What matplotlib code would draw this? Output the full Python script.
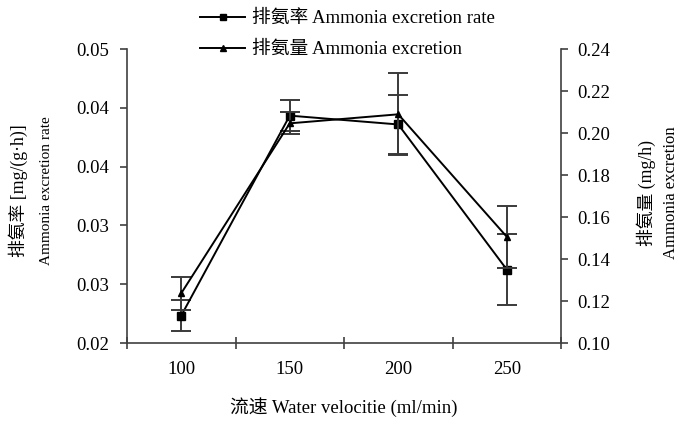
import matplotlib
matplotlib.use("Agg")
import matplotlib.pyplot as plt
from matplotlib.lines import Line2D
import numpy as np

plt.rcParams['font.family'] = ['Liberation Serif', 'Noto Sans CJK SC']
plt.rcParams['font.size'] = 13.5

categories = ['100', '150', '200', '250']
rate = [0.0228, 0.0432, 0.0423, 0.0275]          # left axis, squares
rate_err = [0.0016, 0.0016, 0.0030, 0.0036]
excretion = [0.1237, 0.2046, 0.2089, 0.1506]     # right axis, triangles
excretion_err = [0.0079, 0.0052, 0.0195, 0.0148]
left_ticks = [0.020, 0.026, 0.032, 0.038, 0.044, 0.050]
right_ticks = [0.10, 0.12, 0.14, 0.16, 0.18, 0.20, 0.22, 0.24]

fig = plt.figure(figsize=(6.81, 4.24), dpi=100)
ax = fig.add_axes([127/681, 1-343/424, (561-127)/681, (343-49)/424])
ax2 = ax.twinx()

x = np.arange(1, len(categories) + 1)
ecol = '#3a3a3a'
ax.errorbar(x, rate, yerr=rate_err, color='black', lw=1.4, marker='s', ms=5.5,
            ecolor=ecol, elinewidth=1.4, capsize=7, capthick=1.4)
ax2.errorbar(x, excretion, yerr=excretion_err, color='black', lw=1.4, marker='^', ms=5,
             ecolor=ecol, elinewidth=1.4, capsize=7, capthick=1.4)

ax.set_xlim(0.5, len(categories) + 0.5)
ax.set_ylim(0.02, 0.05)
ax2.set_ylim(0.10, 0.24)
ax.set_yticks(left_ticks)
ax.set_yticklabels([f'{v:.2f}' for v in left_ticks])
ax2.set_yticks(right_ticks)
ax2.set_yticklabels([f'{v:.2f}' for v in right_ticks])

ax.set_xticks(np.arange(0.5, len(categories) + 1, 1.0))
ax.set_xticklabels([])
ax.set_xticks(x, minor=True)
ax.set_xticklabels(categories, minor=True)
ax.tick_params(axis='x', which='major', direction='inout', length=8, width=1.2, color='#404040')
ax.tick_params(axis='x', which='minor', length=0, pad=13)
ax.tick_params(axis='y', direction='out', length=5, width=1.2, color='#404040', pad=8)
ax2.tick_params(axis='y', direction='out', length=5, width=1.2, color='#404040', pad=7)

for a in (ax, ax2):
    a.spines['top'].set_visible(False)
ax.spines['right'].set_visible(False)
ax2.spines['left'].set_visible(False)
ax2.spines['bottom'].set_visible(False)
for s in ('left', 'bottom'):
    ax.spines[s].set_color('#404040')
    ax.spines[s].set_linewidth(1.2)
ax2.spines['right'].set_color('#404040')
ax2.spines['right'].set_linewidth(1.2)

ax.set_xlabel('流速 Water velocitie (ml/min)', labelpad=14)
fig.text(18/681, 1-191/424, '排氨率 [mg/(g·h)]', rotation=90, ha='center', va='center', fontsize=12.8)
fig.text(47/681, 1-191/424, 'Ammonia excretion rate', rotation=90, ha='center', va='center', fontsize=11)
fig.text(646/681, 1-193/424, '排氨量 (mg/h)', rotation=90, ha='center', va='center', fontsize=12.8)
fig.text(671/681, 1-193/424, 'Ammonia excretion', rotation=90, ha='center', va='center', fontsize=12)

lh1 = Line2D([], [], color='black', lw=1.4, marker='s', ms=5)
lh2 = Line2D([], [], color='black', lw=1.4, marker='^', ms=4.5)
fig.legend([lh1, lh2], ['排氨率 Ammonia excretion rate', '排氨量 Ammonia excretion'],
           loc='upper left', bbox_to_anchor=(200/681, 1-10/424), frameon=False,
           borderpad=0, borderaxespad=0, handlelength=2.4, handletextpad=0.35,
           labelspacing=0.72)

fig.savefig('out.png', dpi=100)
